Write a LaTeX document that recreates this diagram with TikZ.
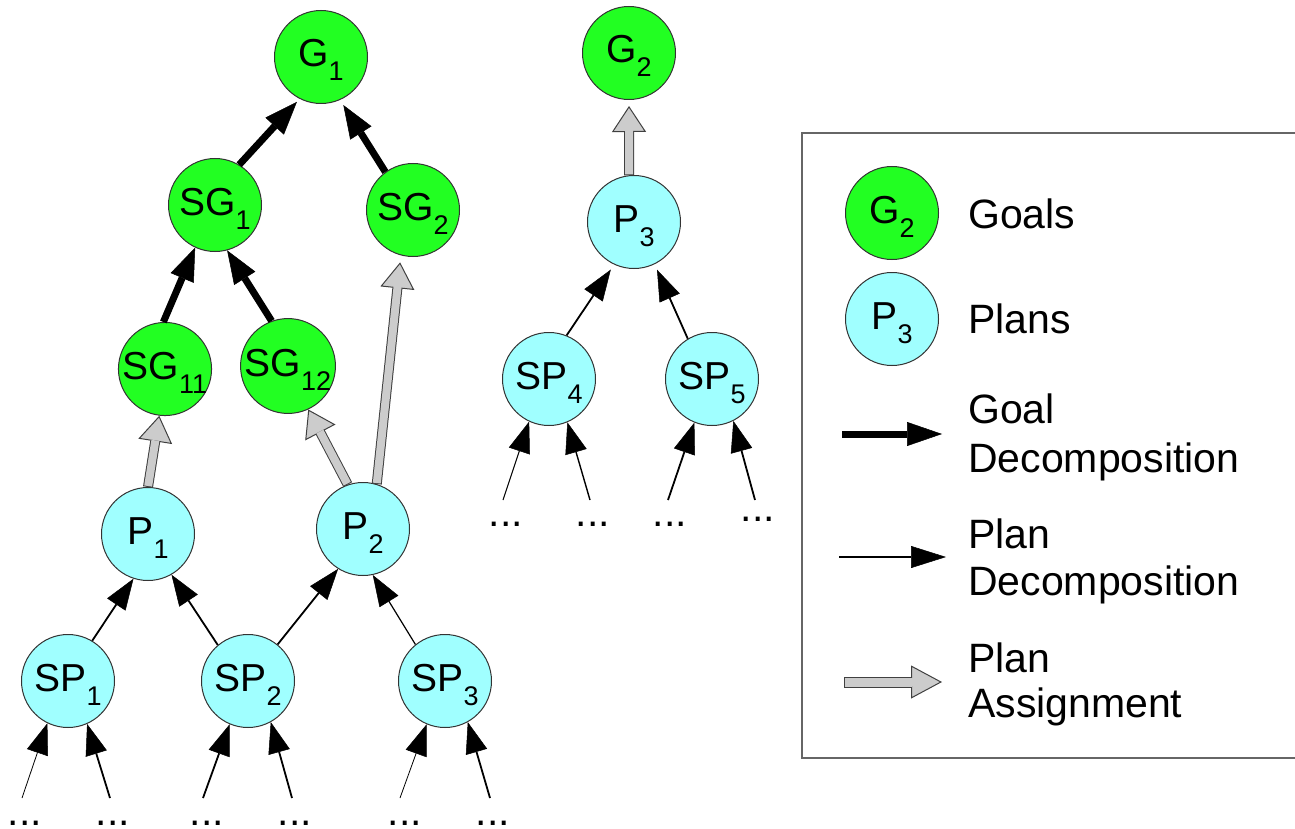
\documentclass[tikz,border=0pt]{standalone}
\usepackage{fontspec}
\setmainfont{Liberation Sans}
\usetikzlibrary{arrows.meta}
\definecolor{goalgreen}{RGB}{34,255,34}
\definecolor{plancyan}{RGB}{160,255,255}
\definecolor{assigngray}{RGB}{204,204,204}
\newcommand{\nlab}[2]{#1\raisebox{-14pt}{\fontsize{27}{27}\selectfont #2}}
\begin{document}
\begin{tikzpicture}[x=1pt,y=-1pt,
  nodebase/.style={circle, minimum size=93pt, inner sep=0pt, draw=black!80, line width=1pt,
    font=\fontsize{39}{39}\selectfont, text height=30pt, text depth=10pt},
  goal/.style={nodebase, fill=goalgreen},
  plan/.style={nodebase, fill=plancyan},
  goaldec/.style={line width=7pt, -{Triangle[length=33pt,width=25pt,line width=0.5pt]}},
  plandec/.style={line width=1.8pt, -{Triangle[length=31pt,width=22pt,line width=0.5pt]}},
  assign/.style={line width=10pt, draw=black!75,
    -{Triangle[length=26pt,width=34pt,line width=1pt,fill=assigngray]},
    postaction={draw=assigngray, line width=8pt, -, shorten >=25pt, shorten <=1pt}},
  dots/.style={anchor=base, font=\fontsize{41}{41}\selectfont, inner sep=0pt},
  legtext/.style={anchor=base west, font=\fontsize{41}{41}\selectfont, inner sep=0pt}
]
\useasboundingbox (0,0) rectangle (1295,829);

% legend frame
\draw[draw=black!60, line width=1.5pt] (802,133) rectangle (1330,758);

% goal tree
\node[goal] (g1) at (321,57) {\nlab{G}{1}};
\node[goal] (sg1) at (215,205) {\nlab{SG}{1}};
\node[goal] (sg2) at (413,210) {\nlab{SG}{2}};
\node[goal] (sg11) at (165,369) {\nlab{SG}{11}};
\node[goal] (sg12) at (288,366) {\nlab{SG}{12}};
\node[plan] (p1) at (148,534) {\nlab{P}{1}};
\node[plan] (p2) at (363,529) {\nlab{P}{2}};
\node[plan] (sp1) at (68,681) {\nlab{SP}{1}};
\node[plan] (sp2) at (248,681) {\nlab{SP}{2}};
\node[plan] (sp3) at (445,681) {\nlab{SP}{3}};

\node[goal] (g2) at (629,53) {\nlab{G}{2}};
\node[plan] (p3) at (634,222) {\nlab{P}{3}};
\node[plan] (sp4) at (549,379) {\nlab{SP}{4}};
\node[plan] (sp5) at (712,379) {\nlab{SP}{5}};

% goal decomposition
\draw[goaldec, shorten >=4pt] (sg1.59) -- (g1.243);
\draw[goaldec, shorten >=6pt] (sg2.126) -- (g1.294);
\draw[goaldec] (sg11.92) -- (sg1.245);
\draw[goaldec] (sg12.110) -- (sg1.285);

% plan assignment
\draw[assign] (p1.90) -- (sg11.263);
\draw[assign] (p2.109) -- (sg12.295);
\draw[assign, shorten >=7pt] (p2.73) -- (sg2.255);
\draw[assign, shorten >=6pt] (p3.96) -- (g2.270);

% plan decomposition
\draw[plandec] (sp1.59) -- (p1.252);
\draw[plandec] (sp2.130) -- (p1.300);
\draw[plandec] (sp2.51) -- (p2.238);
\draw[plandec, line width=1.2pt] (sp3.129) -- (p2.282);
\draw[plandec, shorten >=6pt] (sp4.68) -- (p3.245);
\draw[plandec, shorten >=6pt] (sp5.121) -- (p3.296);

% lower sub-plans
\coordinate (b1) at (22,798);
\coordinate (b2) at (110,798);
\coordinate (b3) at (203,798);
\coordinate (b4) at (292,798);
\coordinate (b5) at (400,798);
\coordinate (b6) at (490,798);
\coordinate (b7) at (503,500);
\coordinate (b8) at (590,500);
\coordinate (b9) at (668,500);
\coordinate (b10) at (755,500);
\draw[plandec, line width=0.8pt] (b1) -- (sp1.244);
\draw[plandec] (b2) -- (sp1.294);
\draw[plandec] (b3) -- (sp2.247);
\draw[plandec] (b4) -- (sp2.299);
\draw[plandec, line width=0.8pt] (b5) -- (sp3.247);
\draw[plandec] (b6) -- (sp3.299);
\draw[plandec, line width=1pt] (b7) -- (sp4.245);
\draw[plandec, line width=1.4pt] (b8) -- (sp4.293);
\draw[plandec] (b9) -- (sp5.248);
\draw[plandec] (b10) -- (sp5.297);

\node[dots] (e1) at (25,825) {...};
\node[dots] (e2) at (113,825) {...};
\node[dots] (e3) at (207,825) {...};
\node[dots] (e4) at (295,825) {...};
\node[dots] (e5) at (405,825) {...};
\node[dots] (e6) at (493,825) {...};
\node[dots] (e7) at (506,526) {...};
\node[dots] (e8) at (593,526) {...};
\node[dots] (e9) at (670,526) {...};
\node[dots] (e10) at (758,521) {...};

% legend
\node[goal] (lg) at (892,213) {\nlab{G}{2}};
\node[plan] (lp) at (892,319) {\nlab{P}{3}};
\node[legtext] (t1) at (968,228) {Goals};
\node[legtext] (t2) at (968,333) {Plans};
\node[legtext] (t3) at (968,423) {Goal};
\node[legtext] (t4) at (968,472) {Decomposition};
\node[legtext] (t5) at (968,548) {Plan};
\node[legtext] (t6) at (968,595) {Decomposition};
\node[legtext] (t7) at (968,672) {Plan};
\node[legtext] (t8) at (968,717) {Assignment};

\coordinate (lga) at (842,434);
\coordinate (lgb) at (942,434);
\coordinate (lpa) at (839,557);
\coordinate (lpb) at (946,557);
\coordinate (laa) at (844,682);
\coordinate (lab) at (942,682);
\draw[goaldec, -{Triangle[length=35pt,width=24pt,line width=0.5pt]}] (lga) -- (lgb);
\draw[plandec, -{Triangle[length=35pt,width=22pt,line width=0.5pt]}] (lpa) -- (lpb);
\draw[assign, line width=11pt, -{Triangle[length=31pt,width=33pt,line width=1pt,fill=assigngray]},
  postaction={draw=assigngray, line width=9pt, -, shorten >=30pt, shorten <=1pt}] (laa) -- (lab);
\end{tikzpicture}
\end{document}
